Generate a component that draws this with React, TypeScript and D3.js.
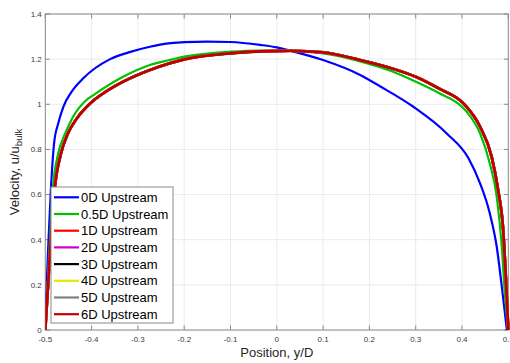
import React from "react";
import * as d3 from "d3";

// ---- Data ----
const xTicks = [-0.5, -0.4, -0.3, -0.2, -0.1, 0, 0.1, 0.2, 0.3, 0.4, 0.5];
const yTicks = [0, 0.2, 0.4, 0.6, 0.8, 1, 1.2, 1.4];

// 0D upstream profile
const pos0D = [-0.5, -0.497, -0.493, -0.488, -0.481, -0.472, -0.461, -0.443, -0.418, -0.36, -0.32, -0.274, -0.234, -0.2, -0.151, -0.1, -0.036, 0.0, 0.028, 0.1, 0.18, 0.222, 0.295, 0.367, 0.414, 0.439, 0.46, 0.475, 0.486, 0.497];
const vel0D = [0, 0.2, 0.4, 0.62, 0.827, 0.916, 0.989, 1.056, 1.115, 1.2, 1.23, 1.255, 1.27, 1.275, 1.278, 1.276, 1.263, 1.252, 1.238, 1.196, 1.13, 1.081, 0.989, 0.871, 0.761, 0.65, 0.517, 0.369, 0.192, 0];

// 0.5D upstream profile
const pos05D = [-0.5, -0.495, -0.49, -0.484, -0.472, -0.457, -0.44, -0.411, -0.396, -0.332, -0.274, -0.234, -0.2, -0.1, -0.036, 0.03, 0.1, 0.18, 0.25, 0.3, 0.35, 0.4, 0.41, 0.439, 0.46, 0.475, 0.486, 0.493, 0.5];
const vel05D = [0, 0.2, 0.4, 0.62, 0.783, 0.871, 0.945, 1.019, 1.041, 1.122, 1.174, 1.195, 1.211, 1.233, 1.238, 1.236, 1.225, 1.19, 1.145, 1.1, 1.05, 0.989, 0.967, 0.871, 0.738, 0.591, 0.369, 0.148, 0];

// 1D - 6D upstream profiles (they overlap in the picture)
const posDeveloped = [-0.5, -0.494, -0.488, -0.48, -0.466, -0.451, -0.432, -0.403, -0.37, -0.332, -0.274, -0.234, -0.2, -0.1, -0.03, 0.03, 0.1, 0.18, 0.25, 0.3, 0.35, 0.403, 0.439, 0.464, 0.478, 0.489, 0.495, 0.5];
const velDeveloped = [0, 0.2, 0.4, 0.62, 0.783, 0.871, 0.937, 1.004, 1.055, 1.1, 1.152, 1.18, 1.199, 1.226, 1.235, 1.237, 1.23, 1.196, 1.158, 1.122, 1.07, 1.004, 0.901, 0.768, 0.62, 0.443, 0.222, 0];

const seriesNames = ["0D Upstream", "0.5D Upstream", "1D Upstream", "2D Upstream", "3D Upstream", "4D Upstream", "5D Upstream", "6D Upstream"];
const seriesColors = ["#0000ff", "#00c000", "#ff0000", "#cc00cc", "#000000", "#e6e600", "#808080", "#c00000"];
const seriesPos = [pos0D, pos05D, posDeveloped, posDeveloped, posDeveloped, posDeveloped, posDeveloped, posDeveloped];
const seriesVel = [vel0D, vel05D, velDeveloped, velDeveloped, velDeveloped, velDeveloped, velDeveloped, velDeveloped];
const seriesWidths = [2.2, 2.2, 2.6, 2.6, 2.6, 2.6, 2.6, 2.8];

// ---- Layout ----
const W = 510;
const H = 363;
const L = 45.3;
const R = 508.3;
const T = 14;
const B = 330;

export default function App() {
  const x = d3.scaleLinear().domain([-0.5, 0.5]).range([L, R]);
  const y = d3.scaleLinear().domain([0, 1.4]).range([B, T]);
  const line = d3
    .line<[number, number]>()
    .x((d) => x(d[0]))
    .y((d) => y(d[1]))
    .curve(d3.curveMonotoneX);

  const font = "'Liberation Sans', Arial, sans-serif";
  const axisColor = "#8a8a8a";
  const tickText = "#3a3a3a";
  const legX = 51;
  const legY = 187;
  const legW = 122;
  const legH = 136;
  const rowH = 16.7;

  return (
    <svg
      width={W}
      height={H}
      style={{ position: "absolute", left: 0, top: 0, background: "#fff" }}
      fontFamily={font}
    >
      <defs>
        <clipPath id="plotClip">
          <rect x={L} y={T - 2} width={R - L + 2} height={B - T + 4} />
        </clipPath>
      </defs>
      <rect x={0} y={0} width={W} height={H} fill="#fff" />
      {/* grid */}
      {xTicks.map((t) => (
        <line key={"gx" + t} x1={x(t)} x2={x(t)} y1={T} y2={B} stroke="#ebebeb" strokeWidth={1} />
      ))}
      {yTicks.map((t) => (
        <line key={"gy" + t} x1={L} x2={R} y1={y(t)} y2={y(t)} stroke="#ebebeb" strokeWidth={1} />
      ))}
      {/* box */}
      <rect x={L} y={T} width={R - L} height={B - T} fill="none" stroke={axisColor} strokeWidth={1} />
      {/* ticks */}
      {xTicks.map((t) => (
        <g key={"tx" + t}>
          <line x1={x(t)} x2={x(t)} y1={B} y2={B - 4.5} stroke={axisColor} />
          <line x1={x(t)} x2={x(t)} y1={T} y2={T + 4.5} stroke={axisColor} />
          <text x={x(t)} y={341.5} fontSize={8} textAnchor="middle" fill={tickText}>
            {String(t)}
          </text>
        </g>
      ))}
      {yTicks.map((t) => (
        <g key={"ty" + t}>
          <line x1={L} x2={L + 4.5} y1={y(t)} y2={y(t)} stroke={axisColor} />
          <line x1={R} x2={R - 4.5} y1={y(t)} y2={y(t)} stroke={axisColor} />
          <text x={41.8} y={y(t) + 2.8} fontSize={8} textAnchor="end" fill={tickText}>
            {String(t)}
          </text>
        </g>
      ))}
      {/* series */}
      <g clipPath="url(#plotClip)">
        {seriesNames.map((name, i) => {
          const pts = seriesPos[i].map((p, j) => [p, seriesVel[i][j]] as [number, number]);
          return (
            <path
              key={name}
              d={line(pts) || ""}
              fill="none"
              stroke={seriesColors[i]}
              strokeWidth={seriesWidths[i]}
              strokeLinejoin="round"
            />
          );
        })}
      </g>
      {/* axis labels */}
      <text x={276.8} y={357} fontSize={13} textAnchor="middle" fill="#262626">
        Position, y/D
      </text>
      <text
        transform={`translate(19,172) rotate(-90)`}
        fontSize={13}
        textAnchor="middle"
        fill="#262626"
      >
        Velocity, u/u
        <tspan fontSize={9.5} dy={3}>bulk</tspan>
      </text>
      {/* legend */}
      <rect x={legX} y={legY} width={legW} height={legH} fill="#fff" stroke={axisColor} strokeWidth={1} />
      {seriesNames.map((name, i) => {
        const cy = legY + 10.3 + i * rowH;
        return (
          <g key={"leg" + name}>
            <line x1={54} x2={79} y1={cy} y2={cy} stroke={seriesColors[i]} strokeWidth={2.2} />
            <text x={81} y={cy + 4.6} fontSize={13} fill="#000">
              {name}
            </text>
          </g>
        );
      })}
    </svg>
  );
}
